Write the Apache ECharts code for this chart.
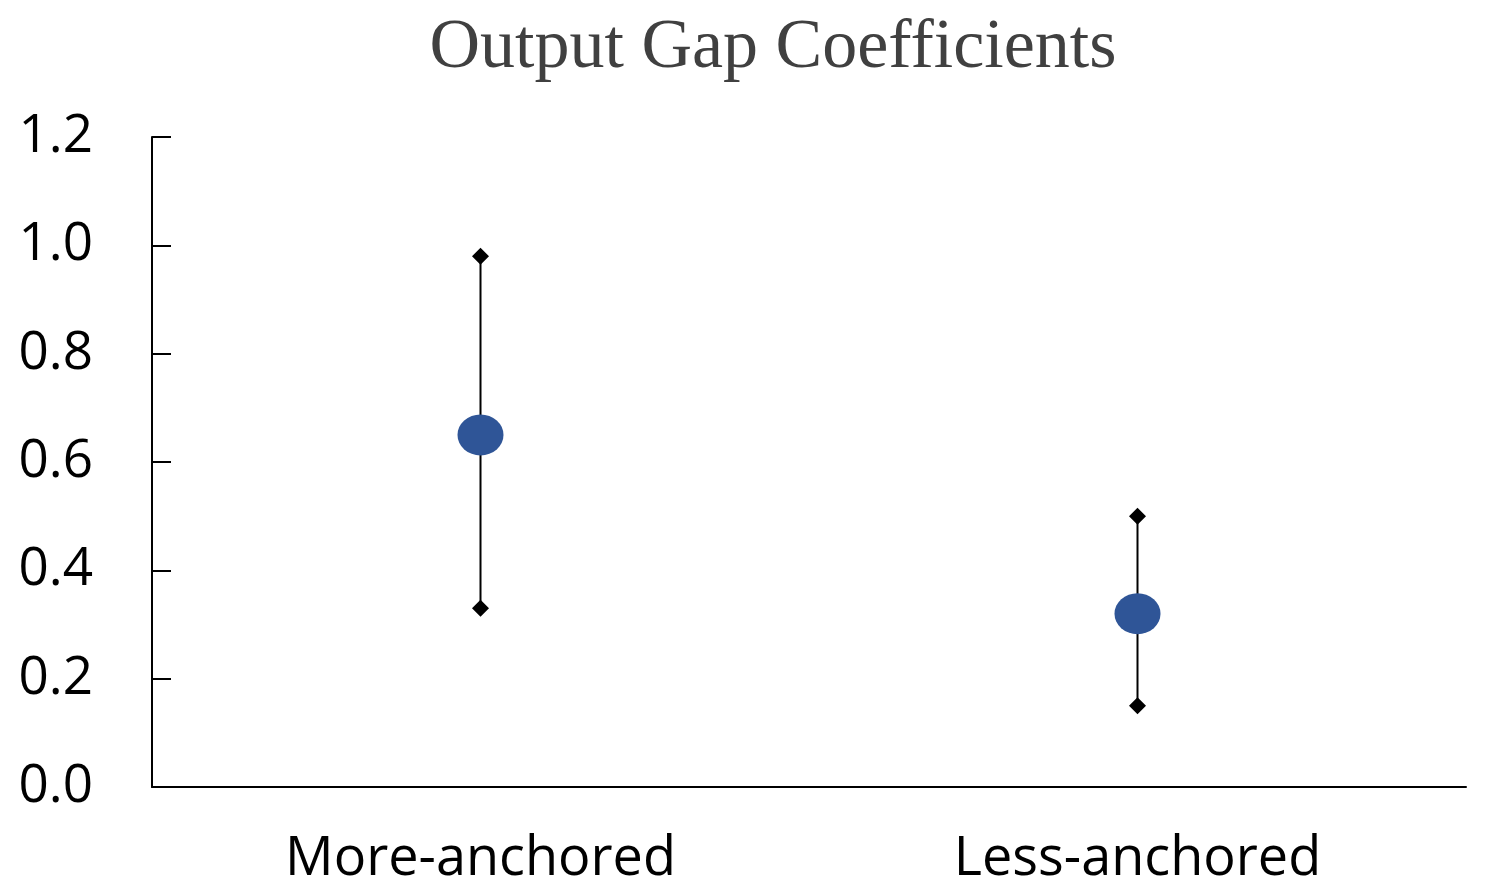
<!DOCTYPE html>
<html>
<head>
<meta charset="utf-8">
<script src="https://cdn.jsdelivr.net/npm/echarts@6/dist/echarts.min.js"></script>
<style>
  html, body { margin: 0; padding: 0; background: #ffffff; }
  #chart { width: 1487px; height: 893px; }
</style>
</head>
<body>
<div id="chart"></div>
<script>
// Output gap coefficients with confidence bounds
const categories = ['More-anchored', 'Less-anchored'];
const estimates = [0.65, 0.32];
const upperBounds = [0.98, 0.50];
const lowerBounds = [0.33, 0.15];
const yTicks = { min: 0, max: 1.2, step: 0.2 };

const chart = echarts.init(document.getElementById('chart'), null, { renderer: 'canvas' });

const whiskerData = categories.map((c, i) => [i, lowerBounds[i], upperBounds[i]]);

chart.setOption({
  animation: false,
  backgroundColor: '#ffffff',
  title: {
    text: 'Output Gap Coefficients',
    left: 768,
    top: 9,
    textAlign: 'center',
    textStyle: {
      fontFamily: 'Liberation Serif',
      fontWeight: 'normal',
      fontSize: 70,
      color: '#404040'
    }
  },
  grid: { left: 152, right: 21, top: 137, bottom: 106 },
  xAxis: {
    type: 'category',
    data: categories,
    boundaryGap: true,
    axisLine: { lineStyle: { color: '#000', width: 2 } },
    axisTick: { show: false },
    axisLabel: {
      margin: 46,
      fontFamily: 'Open Sans',
      fontSize: 54,
      color: '#000'
    },
    splitLine: { show: false }
  },
  yAxis: {
    type: 'value',
    min: yTicks.min,
    max: yTicks.max,
    interval: yTicks.step,
    axisLine: { show: true, lineStyle: { color: '#000', width: 2 } },
    axisTick: { show: true, inside: true, length: 19, lineStyle: { color: '#000', width: 2 } },
    axisLabel: {
      margin: 59,
      fontFamily: 'Open Sans',
      fontSize: 53,
      color: '#000',
      formatter: v => v.toFixed(1)
    },
    splitLine: { show: false }
  },
  series: [
    {
      type: 'custom',
      data: whiskerData,
      z: 1,
      renderItem: (params, api) => {
        const lo = api.coord([api.value(0), api.value(1)]);
        const hi = api.coord([api.value(0), api.value(2)]);
        return {
          type: 'line',
          shape: { x1: lo[0], y1: lo[1], x2: hi[0], y2: hi[1] },
          style: { stroke: '#000', lineWidth: 2 }
        };
      }
    },
    {
      type: 'scatter',
      data: upperBounds,
      symbol: 'diamond',
      symbolSize: 17,
      itemStyle: { color: '#000', opacity: 1 },
      z: 2
    },
    {
      type: 'scatter',
      data: lowerBounds,
      symbol: 'diamond',
      symbolSize: 17,
      itemStyle: { color: '#000', opacity: 1 },
      z: 2
    },
    {
      type: 'scatter',
      data: estimates,
      symbol: 'circle',
      symbolSize: [46, 41],
      itemStyle: { color: '#2F5597', opacity: 1 },
      z: 3
    }
  ]
});
</script>
</body>
</html>
